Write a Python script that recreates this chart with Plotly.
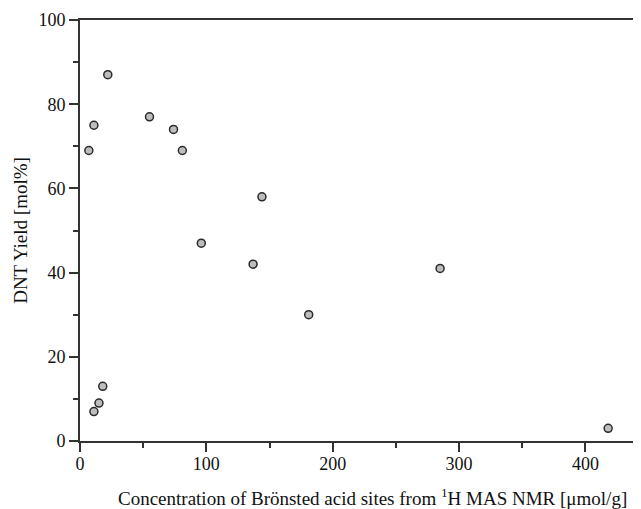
import plotly.graph_objects as go

brønsted_conc = [22, 11, 7, 55, 74, 81, 144, 96, 137, 181, 18, 15, 11, 285, 418]
dnt_yield = [87, 75, 69, 77, 74, 69, 58, 47, 42, 30, 13, 9, 7, 41, 3]

x_ticks = [0, 100, 200, 300, 400]
y_ticks = [0, 20, 40, 60, 80, 100]

x_title = "Concentration of Brönsted acid sites from <sup>1</sup>H MAS NMR [μmol/g]"
y_title = "DNT Yield [mol%]"

font = "Liberation Serif, Times New Roman, serif"
axcol = "#333333"

fig = go.Figure()
fig.add_trace(go.Scatter(
    x=brønsted_conc, y=dnt_yield, mode="markers",
    marker=dict(size=8, color="#bdbdbd", line=dict(color="#2a2a2a", width=1.5)),
    showlegend=False, cliponaxis=False,
))

fig.update_layout(
    width=633, height=501,
    margin=dict(l=72, r=0, t=12, b=68),
    paper_bgcolor="white", plot_bgcolor="white",
    font=dict(family=font, size=18, color="#111111"),
    xaxis=dict(
        range=[0, 444], tickvals=x_ticks, ticks="outside", ticklen=9, tickwidth=1.5,
        tickcolor=axcol, showline=True, linecolor=axcol, linewidth=2, mirror=True,
        showgrid=False, zeroline=False, automargin=False, ticklabelstandoff=-4,
        minor=dict(dtick=50, ticks="outside", ticklen=5, tickwidth=1.5, tickcolor=axcol),
        tickfont=dict(size=18),
    ),
    yaxis=dict(
        range=[0, 100], tickvals=y_ticks, ticks="outside", ticklen=9, tickwidth=1.5,
        tickcolor=axcol, showline=True, linecolor=axcol, linewidth=2, mirror=False,
        showgrid=False, zeroline=False, automargin=False,
        minor=dict(dtick=10, ticks="outside", ticklen=5, tickwidth=1.5, tickcolor=axcol),
        title=dict(text=y_title, font=dict(size=19), standoff=6),
        tickfont=dict(size=18),
    ),
    annotations=[dict(
        text=x_title, xref="paper", yref="paper", x=0.522, y=-0.132,
        xanchor="center", yanchor="middle", showarrow=False,
        font=dict(size=19, family=font, color="#111111"),
    )],
)

fig.write_html("out.html")
